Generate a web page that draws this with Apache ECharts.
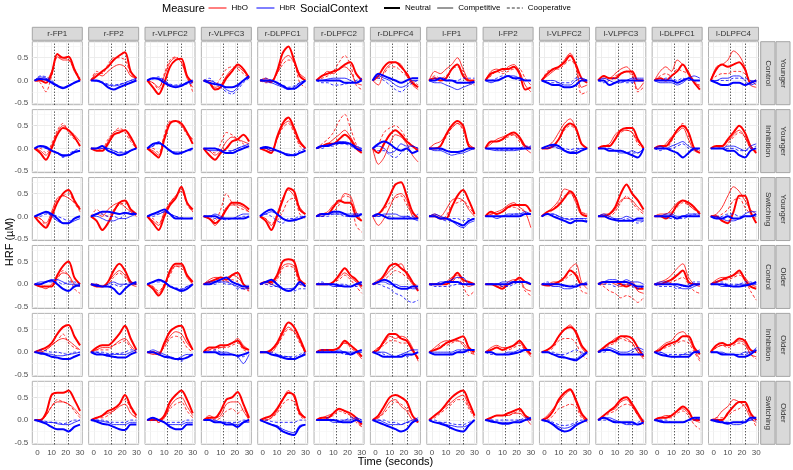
<!DOCTYPE html>
<html><head><meta charset="utf-8">
<script src="https://cdn.jsdelivr.net/npm/echarts@6/dist/echarts.min.js"></script>
<style>html,body{margin:0;padding:0;background:#fff}#c{width:793px;height:470px}</style>
</head><body><div id="c"></div><script>
// ---------- data ----------
const times = [-2, 2, 6, 10, 14, 18, 22, 26, 30];            // seconds
const channels = ['r-FP1','r-FP2','r-VLPFC2','r-VLPFC3','r-DLPFC1','r-DLPFC2','r-DLPFC4','l-FP1','l-FP2','l-VLPFC2','l-VLPFC3','l-DLPFC1','l-DLPFC4'];
const conditions = ['Control','Inhibition','Switching','Control','Inhibition','Switching'];
const groups = ['Younger','Younger','Younger','Older','Older','Older'];
const taskMarks = [12, 22];
const xTicks = [0, 10, 20, 30];
const yTicks = [-0.5, 0, 0.5];
// HRF values in hundredths of µM; [row][channel] -> value at each time
const HbO_Neutral = [
 [[0,0,-5,15,58,50,52,25,0],[0,10,20,30,45,55,62,20,5],[0,-15,-30,-5,30,45,48,10,-5],[0,-5,-20,-15,5,20,35,25,5],[0,0,-3,20,60,75,45,10,0],[0,10,15,20,25,35,40,15,0],[0,10,30,40,40,30,15,-5,-15],[0,5,0,5,25,35,10,0,0],[0,15,20,25,25,30,15,-20,-15],[0,15,25,30,40,55,35,5,-5],[0,10,5,5,15,20,20,0,0],[0,5,0,10,20,35,15,-5,-20],[0,25,35,30,35,40,25,-5,0]],
 [[0,-10,-25,0,30,45,40,25,5],[0,-5,-5,10,30,35,40,25,0],[0,-10,-20,20,55,60,55,35,10],[0,-15,-25,-10,0,15,20,30,15],[0,-5,-10,25,55,68,45,15,0],[0,5,10,10,20,30,20,0,-10],[0,-10,10,30,40,30,15,5,-5],[0,0,5,30,50,60,50,5,0],[0,15,15,20,30,35,25,5,0],[0,0,5,20,45,55,45,10,0],[0,5,5,20,40,45,45,20,0],[0,5,5,20,40,50,35,0,-10],[0,5,5,20,35,50,35,5,-10]],
 [[0,-15,-25,0,30,50,58,35,15],[0,-10,-30,-15,10,30,35,15,5],[0,-15,-30,0,25,40,65,30,15],[0,-5,-15,-5,15,30,30,25,15],[0,-10,-30,0,35,62,55,15,5],[0,5,5,20,35,30,30,0,-10],[0,5,20,45,70,75,45,10,-5],[0,0,-5,-5,20,45,58,35,5],[0,10,5,10,20,25,25,25,10],[0,10,15,25,40,55,40,5,0],[0,0,5,20,50,70,50,35,15],[0,0,-5,5,25,35,30,20,5],[0,0,-10,-15,10,45,45,10,-15]],
 [[0,-5,-5,-5,20,40,50,15,0],[0,-5,-5,5,30,45,30,5,0],[0,-10,-25,-5,30,45,45,20,5],[0,5,10,15,10,20,25,0,-10],[0,5,5,20,50,55,50,10,0],[0,0,0,5,20,35,20,10,-5],[0,5,20,40,45,35,25,5,-15],[0,0,0,0,10,25,10,5,0],[0,0,-5,-10,0,5,15,5,0],[0,-3,0,5,15,30,20,0,0],[0,5,5,5,0,-5,0,-10,-10],[0,0,5,10,20,30,5,0,0],[0,5,10,15,20,30,10,-5,-10]],
 [[0,5,10,20,40,55,60,35,15],[0,10,15,15,25,40,58,30,5],[0,0,-5,20,45,55,58,30,5],[0,10,10,15,15,20,25,10,5],[0,0,5,20,45,65,55,30,0],[0,5,5,5,10,25,15,5,-10],[0,5,25,40,40,30,25,5,-15],[0,5,10,20,25,30,35,10,0],[0,5,10,5,10,15,25,10,-5],[0,5,15,35,50,55,45,15,0],[0,10,20,25,35,35,30,10,-10],[0,5,15,20,25,35,35,10,-5],[0,15,20,15,20,30,25,5,0]],
 [[0,0,15,55,60,60,65,45,20],[0,5,10,20,25,35,55,30,10],[0,0,0,10,40,55,65,45,15],[0,5,5,20,45,50,62,35,5],[0,5,10,25,45,60,55,15,5],[0,5,5,15,25,20,15,5,-10],[0,10,30,50,55,50,40,10,-5],[0,10,20,35,50,60,65,40,10],[0,5,10,10,15,20,25,10,0],[0,5,20,45,60,68,45,15,0],[0,10,20,30,45,50,35,15,-5],[0,5,5,10,20,30,20,0,0],[0,0,0,15,30,40,40,15,0]]
];
const HbO_Competitive = [
 [[0,5,0,20,52,45,45,20,0],[0,15,10,20,30,35,30,10,5],[0,-5,-15,10,40,50,40,5,-15],[0,-5,-15,-10,10,25,30,20,10],[0,5,0,15,45,55,40,15,5],[0,10,20,15,25,30,20,-5,-10],[0,-10,20,35,40,35,10,-10,-20],[0,20,15,25,35,50,25,0,-5],[0,20,25,20,30,35,20,-10,-25],[0,10,20,30,45,60,35,-15,-10],[0,10,5,15,25,30,15,-20,-5],[0,20,30,20,45,35,20,-5,-10],[0,30,35,45,65,55,30,-10,-15]],
 [[0,-5,-15,5,35,50,40,30,15],[0,0,-5,15,35,40,40,20,5],[0,-5,-15,25,55,60,50,35,20],[0,-5,-15,-5,15,25,20,15,10],[0,0,-5,20,50,60,40,10,0],[0,5,10,20,30,40,25,5,-5],[0,-35,-20,10,30,25,10,-15,-30],[0,10,15,30,45,55,45,10,0],[0,10,20,25,30,30,20,0,-10],[0,5,15,35,55,65,45,10,0],[0,5,10,30,40,40,35,15,5],[0,0,10,25,35,45,20,-5,-10],[0,0,5,15,30,40,25,0,-5]],
 [[0,-5,-15,10,40,45,40,30,20],[0,5,0,15,25,30,20,10,0],[0,-10,-20,10,30,45,55,30,10],[0,-5,-20,-5,20,25,25,20,10],[0,-5,-20,5,40,58,45,20,5],[0,5,10,25,30,50,45,10,-10],[0,-20,-5,20,45,50,35,0,-5],[0,5,0,15,35,40,35,15,0],[0,5,10,15,25,30,20,10,-25],[0,10,20,35,60,55,30,5,5],[0,5,5,15,35,40,35,20,10],[0,5,5,15,30,35,25,15,10],[0,5,20,45,65,55,35,15,5]],
 [[0,-5,-10,0,15,25,20,0,-5],[0,0,-5,5,20,30,20,0,-5],[0,-5,-20,0,25,40,40,15,0],[0,10,15,15,15,20,15,0,-15],[0,5,0,15,40,45,40,5,-5],[0,0,0,5,15,25,15,5,-10],[0,10,15,30,40,45,20,0,-10],[0,0,0,5,15,20,5,-5,0],[0,0,0,-5,5,10,10,-10,-15],[0,0,5,5,15,35,45,5,-10],[0,0,5,0,-5,0,5,-15,-20],[0,5,10,20,35,45,15,0,-5],[0,10,15,15,20,25,15,0,-5]],
 [[0,0,5,15,25,30,25,15,5],[0,5,10,10,15,25,30,15,0],[0,-5,-5,15,35,45,40,20,5],[0,5,10,10,15,20,30,15,5],[0,0,0,15,40,55,45,25,-5],[0,5,5,5,10,20,15,0,-15],[0,10,20,35,30,35,30,10,-20],[0,10,20,25,25,25,20,5,-5],[0,10,15,10,10,15,20,5,-10],[0,5,15,35,50,60,40,10,-5],[0,10,20,30,35,30,20,0,-15],[0,10,20,25,40,45,30,5,-15],[0,10,15,15,20,25,20,-5,-10]],
 [[0,0,10,30,40,40,35,25,10],[0,5,10,15,20,30,35,15,5],[0,5,-5,5,30,45,50,30,10],[0,10,5,10,35,40,40,20,0],[0,0,5,20,45,65,50,20,5],[0,5,10,15,25,20,10,0,-15],[0,5,20,40,45,30,20,0,-5],[0,10,20,30,40,50,55,30,10],[0,5,10,10,10,15,15,5,-10],[0,10,25,40,55,65,40,10,-5],[0,10,20,25,40,45,30,10,-10],[0,5,10,10,20,25,15,0,-5],[0,5,20,30,45,40,30,5,-5]]
];
const HbO_Cooperative = [
 [[0,-5,-25,10,50,50,45,25,5],[0,20,15,35,50,50,45,15,0],[0,-5,-20,15,45,52,40,10,-25],[0,0,-10,5,25,30,25,15,5],[0,-5,-5,15,35,45,40,-5,-15],[0,5,10,20,40,55,35,-10,-20],[0,5,15,30,30,20,10,0,-10],[0,10,5,10,25,30,20,-5,-10],[0,10,20,15,20,25,25,5,-10],[0,20,25,25,35,45,30,-30,-25],[0,5,0,10,15,20,10,-25,-15],[0,10,15,10,25,20,15,0,-15],[0,10,15,15,20,20,15,0,-10]],
 [[0,0,-10,10,40,55,35,20,10],[0,0,0,20,35,45,35,15,0],[0,0,-10,30,60,60,50,30,20],[0,-5,-10,10,35,30,20,10,0],[0,0,-5,20,45,55,35,5,-5],[0,10,20,35,60,75,45,10,-5],[0,10,35,45,50,40,20,5,0],[0,0,5,25,45,55,40,5,0],[0,15,15,20,25,30,15,5,0],[0,0,5,20,40,50,40,10,0],[0,0,5,20,35,40,35,10,0],[0,0,0,15,40,55,35,0,-5],[0,0,0,10,25,35,25,0,-10]],
 [[0,-5,-20,5,35,45,50,30,10],[0,15,5,0,15,25,30,15,5],[0,-5,-15,5,30,45,60,25,10],[0,0,-10,15,50,30,20,15,10],[0,-5,-15,-10,10,35,40,5,-5],[0,0,5,10,25,45,40,-20,-35],[0,5,15,30,40,45,25,5,0],[0,0,-5,0,25,30,35,20,5],[0,5,5,10,20,20,15,10,0],[0,5,15,30,45,50,35,10,5],[0,0,0,10,30,45,30,15,5],[0,0,5,10,20,30,25,15,5],[0,0,5,15,35,40,20,5,-5]],
 [[0,0,-5,-5,10,30,20,-10,-20],[0,0,-5,0,15,25,15,5,0],[0,-5,-15,0,20,40,35,20,0],[0,0,10,10,5,10,5,-10,-15],[0,0,0,10,35,40,35,0,-5],[0,0,0,5,10,20,10,-5,-20],[0,5,10,20,30,25,15,5,-5],[0,0,0,0,5,15,-5,-25,-15],[0,0,0,-5,0,5,5,-15,-25],[0,0,0,5,10,20,25,-15,-20],[0,-5,-15,-20,-30,-25,-30,-40,-30],[0,0,0,5,10,15,0,-15,-20],[0,5,10,10,15,20,10,-15,-35]],
 [[0,0,5,15,25,40,20,10,5],[0,5,5,5,15,20,25,10,0],[0,0,0,10,30,35,30,10,0],[0,5,5,10,10,15,20,5,0],[0,0,5,15,35,50,45,20,0],[0,0,5,5,10,20,10,0,-10],[0,10,15,25,25,20,20,0,-10],[0,5,15,15,20,25,15,0,-5],[0,5,10,5,5,10,15,5,0],[0,0,10,25,30,30,20,-5,-15],[0,5,15,20,30,25,20,0,-5],[0,5,10,15,20,25,20,0,-20],[0,10,15,10,15,20,15,-5,-15]],
 [[0,0,10,30,45,40,35,20,5],[0,5,5,10,20,35,45,25,5],[0,0,-5,5,25,35,40,20,5],[0,5,0,5,20,25,15,25,-5],[0,0,5,15,35,45,40,10,0],[0,0,5,10,20,15,10,-5,-15],[0,5,15,30,40,35,25,10,0],[0,5,15,25,35,45,45,25,5],[0,5,10,10,10,15,20,10,5],[0,0,10,25,30,35,30,5,0],[0,5,15,20,30,35,30,10,0],[0,5,5,5,15,20,10,-10,-20],[0,5,5,10,20,25,35,10,-15]]
];
const HbR_Neutral = [
 [[0,3,2,-5,-12,-17,-12,-5,0],[0,0,-5,-15,-20,-15,-10,-5,0],[0,5,3,-5,-12,-15,-12,-5,0],[0,-5,-8,-10,-15,-15,-10,0,10],[0,0,0,-5,-12,-18,-18,-10,0],[0,0,0,0,0,-5,-5,-5,0],[0,15,10,5,0,-5,0,5,5],[0,0,5,0,0,-5,-5,-5,-3],[0,0,0,5,10,5,5,0,0],[0,-5,-10,-10,-15,-15,-10,0,0],[0,0,-10,-5,0,0,0,0,0],[0,0,0,0,-5,0,5,0,0],[0,-5,-10,-10,-5,-5,-10,-5,0]],
 [[0,5,3,-5,-10,-15,-15,-8,-5],[0,0,5,-5,-10,-15,-12,-5,0],[0,10,12,5,-5,-12,-10,-5,0],[0,0,0,-5,-10,-10,-5,0,5],[0,3,0,-5,-10,-15,-15,-10,-5],[0,5,5,10,12,12,10,0,-5],[0,10,15,10,0,-5,0,-10,-5],[0,0,0,-5,-8,-8,-5,0,0],[0,0,0,0,0,0,0,0,0],[0,5,8,5,-5,-10,-10,-5,0],[0,0,-5,-5,-5,-10,-15,-20,0],[0,0,0,-5,-10,-20,-10,0,0],[0,0,0,-5,-5,-15,-20,-5,0]],
 [[0,5,10,5,-5,-15,-15,-5,0],[0,5,10,10,8,5,8,5,5],[0,5,10,15,5,-5,-5,-5,-5],[0,0,0,-5,-5,-5,-5,-5,0],[0,10,15,5,-5,-10,-8,-5,0],[0,5,5,10,10,5,0,0,5],[0,5,0,-5,-5,-5,-5,-5,-5],[0,0,-5,-5,-10,-15,-20,-10,-5],[0,0,0,0,0,0,0,5,5],[0,5,0,-5,-10,-15,-10,-10,-12],[0,0,-5,-8,-10,-10,-10,-5,-5],[0,0,0,0,-5,0,0,0,0],[0,-5,-5,0,-5,-5,0,0,5]],
 [[0,0,5,8,0,-10,-15,-5,-3],[0,-3,-5,-5,-10,-22,-10,0,5],[0,5,10,5,-5,-10,-15,-10,0],[0,0,5,10,15,5,0,-5,-5],[0,5,10,0,-10,-15,-10,5,-5],[0,0,0,0,-3,-5,-5,0,5],[0,5,10,5,-5,-10,-10,-5,-5],[0,0,0,5,5,5,0,0,0],[0,0,0,0,0,5,5,5,0],[0,0,0,0,-3,-5,-5,0,0],[0,5,5,5,5,5,0,-5,-5],[0,0,0,0,0,-3,-5,0,0],[0,0,0,-3,-5,-5,-3,0,5]],
 [[0,-3,-5,-10,-12,-15,-15,-10,-5],[0,-5,-5,-8,-10,-12,-12,-5,0],[0,0,-5,-10,-12,-15,-15,-12,-5],[0,0,0,-5,-5,-5,-8,-5,0],[0,0,-5,-8,-12,-15,-15,-10,-5],[0,0,0,0,0,0,-5,0,5],[0,-5,-10,-10,-10,-10,-5,-5,0],[0,-5,-5,-5,-5,0,0,5,5],[0,0,-5,-5,-5,-3,0,5,5],[0,0,-5,-10,-12,-15,-18,-10,0],[0,5,5,0,-5,-5,-5,-5,-5],[0,-5,-8,-10,-10,-10,-10,0,0],[0,0,-5,-5,-5,-10,-10,-5,5]],
 [[0,-3,-8,-15,-20,-20,-25,-15,-10],[0,-3,-8,-10,-15,-20,-22,-10,-10],[0,5,0,-5,-15,-20,-20,-10,-10],[0,0,-5,-5,-10,-10,-15,-5,0],[0,-5,-10,-15,-25,-30,-33,-15,-10],[0,0,0,0,-3,-5,-5,0,-5],[0,-5,-10,-15,-20,-25,-20,-5,0],[0,-5,-8,-12,-18,-23,-25,-12,0],[0,-3,-5,-8,-8,-5,-5,0,5],[0,-3,-10,-20,-25,-22,-12,-5,0],[0,5,0,-5,-5,-5,-5,-10,-5],[0,-3,-5,-5,-5,-5,0,5,5],[0,-3,-5,-8,-5,-5,-5,5,5]]
];
const HbR_Competitive = [
 [[0,8,5,-3,-10,-15,-10,-5,0],[0,-2,-5,-10,-12,-10,-5,0,5],[0,5,5,0,-10,-12,-10,-5,-3],[0,0,-5,-10,-20,-25,-15,0,5],[0,-3,-5,-10,-15,-20,-15,-5,0],[0,0,3,5,5,5,0,-5,5],[0,10,5,0,-10,-15,-10,0,0],[0,-5,-5,-10,-15,-20,-15,-10,-5],[0,-5,0,5,10,10,5,0,0],[0,0,0,-5,-10,-10,0,5,0],[0,5,0,-5,-5,0,5,5,5],[0,-5,-5,-5,-10,-5,5,10,5],[0,0,5,5,10,10,0,-10,-5]],
 [[0,5,0,-5,-10,-18,-15,-10,-5],[0,0,0,0,-5,-10,-10,-5,0],[0,5,15,5,-5,-8,-8,-5,0],[0,-5,-5,-5,-10,-5,0,5,10],[0,0,-5,-5,-10,-12,-15,-10,-5],[0,5,8,10,15,15,10,5,0],[0,5,0,-10,-5,10,5,5,0],[0,-5,-5,-10,-15,-12,-10,-5,0],[0,-3,-5,-5,-5,-5,-3,0,5],[0,0,5,0,-5,-8,-5,0,0],[0,0,0,-5,-10,-10,-5,-10,0],[0,5,0,5,10,15,5,0,0],[0,0,0,5,5,0,-5,5,10]],
 [[0,5,8,0,-10,-15,-15,-10,-5],[0,0,-5,-10,-10,-5,-5,0,5],[0,5,5,10,5,0,-5,-5,-5],[0,0,5,0,-5,-5,0,5,5],[0,5,10,5,-5,-10,-10,-5,0],[0,0,5,5,5,5,5,5,5],[0,0,5,5,5,0,0,-5,-10],[0,5,0,-5,-10,-20,-25,-15,-10],[0,0,-5,0,5,5,5,10,5],[0,5,5,0,-5,-8,-5,-5,-5],[0,5,0,-5,-5,0,-5,-10,-10],[0,0,5,5,0,0,5,5,5],[0,0,-5,-10,-10,-5,5,10,10]],
 [[0,5,5,10,10,5,0,0,0],[0,0,-5,0,5,0,0,0,0],[0,5,8,5,-5,-10,-12,-5,0],[0,5,5,5,5,0,-5,-10,-10],[0,5,0,-5,-10,-10,-8,0,-5],[0,0,0,-5,-5,-5,-5,0,0],[0,5,5,0,0,-5,-5,-10,-10],[0,0,5,5,10,15,15,0,0],[0,0,0,5,5,5,5,5,0],[0,0,-5,-5,-10,-10,-5,0,5],[0,5,10,10,5,10,5,5,0],[0,5,5,0,-5,-10,-10,-5,0],[0,0,-5,-5,-5,0,0,0,0]],
 [[0,0,-3,-5,-8,-8,-5,-3,0],[0,0,-5,-5,-5,-5,-5,0,5],[0,5,0,-5,-10,-15,-10,-5,-5],[0,0,0,0,0,-5,-10,-25,-5],[0,0,-5,-5,-10,-10,-15,-10,0],[0,0,0,0,5,0,0,0,0],[0,0,0,-5,-10,-5,0,5,5],[0,0,0,0,0,5,5,5,5],[0,0,-5,-5,0,0,5,5,5],[0,0,-5,-5,-10,-15,-15,-5,0],[0,5,10,5,0,0,5,10,5],[0,0,-5,-10,-10,-5,-5,0,5],[0,0,0,-5,-5,-5,0,0,10]],
 [[0,-3,-5,-5,-8,-10,-10,-5,0],[0,0,-3,-5,-10,-10,-10,-5,-5],[0,5,0,-5,-10,-10,-10,-5,-5],[0,0,0,-5,-5,-8,-10,-5,-5],[0,-5,-10,-12,-20,-25,-28,-12,-10],[0,0,0,-5,-5,0,0,5,0],[0,0,-5,-10,-10,-10,-5,0,5],[0,-5,-5,-10,-12,-15,-15,-10,0],[0,0,-5,-5,-5,-5,0,0,0],[0,-3,-8,-15,-18,-15,-8,-5,0],[0,5,5,0,-5,-10,-10,-10,-5],[0,0,-5,-5,-5,-5,0,5,0],[0,0,-5,-5,-10,-10,-5,0,5]]
];
const HbR_Cooperative = [
 [[0,10,8,0,-10,-15,-12,-5,0],[0,0,-3,-8,-10,-8,-5,0,3],[0,3,8,0,-8,-10,-8,-8,-5],[0,5,-5,-15,-25,-30,-20,-5,5],[0,5,0,-5,-10,-15,-12,-5,0],[0,-5,-5,-10,-10,-8,-5,0,5],[0,5,0,-10,-20,-25,-15,-5,0],[0,5,5,3,0,0,5,5,5],[0,0,5,10,10,5,0,0,0],[0,-5,-5,-5,-5,-5,5,5,0],[0,-5,0,5,0,-5,-5,0,0],[0,0,5,5,0,5,0,0,0],[0,0,0,0,5,5,5,0,0]],
 [[0,3,0,-5,-10,-20,-12,-5,0],[0,0,5,0,-5,-8,-8,-5,0],[0,5,10,5,-5,-10,-10,-5,-5],[0,0,0,-3,-5,-5,0,5,5],[0,0,0,-5,-10,-15,-12,-5,0],[0,0,5,5,10,10,5,0,0],[0,-5,-5,-15,-20,-10,0,5,0],[0,0,-3,-5,-8,-8,-5,0,0],[0,0,-2,-3,-3,-2,0,5,5],[0,0,3,0,0,-3,0,0,0],[0,0,0,-5,-5,-8,-10,-10,0],[0,-5,0,0,5,10,0,-5,0],[0,0,0,0,0,-5,-5,0,5]],
 [[0,0,5,5,0,-5,-10,-5,0],[0,5,5,0,0,-5,5,10,5],[0,0,5,10,5,0,-3,-5,-3],[0,0,-5,-5,-8,-5,-5,0,0],[0,5,0,-10,-15,-5,-5,0,0],[0,0,0,5,5,0,0,5,5],[0,0,0,0,-5,-5,0,0,5],[0,0,-5,-10,-5,-5,-10,-5,-5],[0,0,0,0,0,5,5,5,5],[0,5,5,0,-5,-5,-5,-5,-10],[0,0,-5,-5,-10,-5,-10,-15,-10],[0,0,-3,-5,-5,-5,0,5,0],[0,-3,0,5,5,0,0,0,0]],
 [[0,0,5,5,5,0,5,5,0],[0,-5,-5,-5,0,-5,0,5,0],[0,5,5,5,-3,-8,-10,-5,0],[0,0,0,5,0,0,-10,-10,-5],[0,0,-5,-5,-10,-15,-15,-10,-10],[0,5,0,0,0,0,-5,-5,0],[0,0,-5,-10,-20,-25,-35,-40,-35],[0,-5,-5,-5,-3,0,0,0,0],[0,0,0,-5,-5,0,5,5,0],[0,5,0,0,-5,-5,0,0,0],[0,0,0,-5,0,0,-5,-10,-5],[0,-5,-5,-5,-10,-5,0,5,5],[0,5,5,0,0,0,5,5,0]],
 [[0,5,3,0,0,-3,-5,0,0],[0,0,0,-3,-3,-3,0,5,5],[0,0,-5,-10,-10,-15,-20,-10,-5],[0,0,5,0,-5,-5,-10,-10,0],[0,0,0,-5,-8,-10,-10,-5,0],[0,5,5,0,0,-5,-5,0,0],[0,0,-5,-10,-10,-5,-10,-5,0],[0,-5,-5,-5,-3,0,5,5,5],[0,-5,-5,-5,-5,0,0,5,5],[0,0,0,-5,-5,0,5,0,0],[0,0,5,0,-5,-5,0,5,0],[0,0,-5,-5,-5,-5,0,0,0],[0,0,-3,-5,-5,-5,-5,0,5]],
 [[0,0,-3,-5,-5,-8,-5,0,0],[0,0,0,-3,-5,-5,-5,0,0],[0,0,0,-5,-5,-5,-5,0,0],[0,0,-5,-3,-5,-5,-5,0,0],[0,0,-3,-5,-5,-5,-5,0,0],[0,0,5,0,0,0,5,5,0],[0,0,0,-5,-5,-10,-5,-5,0],[0,0,-5,-5,-8,-10,-10,-5,0],[0,0,0,0,0,0,0,5,5],[0,0,-5,-10,-12,-10,-5,0,0],[0,0,0,-3,-5,-8,-8,-5,0],[0,0,0,-5,-5,-5,0,0,5],[0,0,-3,-5,-5,-5,0,0,0]]
];

// ---------- layout / style ----------
const FONT = '"Liberation Sans", Arial, sans-serif';
const NR = 6, NC = 13;
const L0 = 32.3, DX = 56.35, PW = 50, T0 = 41.7, DY = 67.92, PH = 63;
const X_MIN = -3.6, X_MAX = 31.6, Y_MIN = -0.533, Y_MAX = 0.853;
const RED = '#FF0000', BLUE = '#0000FF';
const ctxStyle = {
  Neutral: {width: 2, type: 'solid'},
  Competitive: {width: 0.8, type: 'solid'},
  Cooperative: {width: 0.8, type: [3, 2]}
};
const seriesDefs = [
  ['HbO', 'Competitive', HbO_Competitive, RED],
  ['HbO', 'Cooperative', HbO_Cooperative, RED],
  ['HbO', 'Neutral', HbO_Neutral, RED],
  ['HbR', 'Competitive', HbR_Competitive, BLUE],
  ['HbR', 'Cooperative', HbR_Cooperative, BLUE],
  ['HbR', 'Neutral', HbR_Neutral, BLUE]
];
const gridMajX = [0, 10, 20, 30], gridMinX = [5, 15, 25];
const gridMajY = [-0.5, 0, 0.5], gridMinY = [-0.25, 0.25, 0.75];

const grids = [], xAxes = [], yAxes = [], series = [], graphics = [];
for (let r = 0; r < NR; r++) {
  for (let c = 0; c < NC; c++) {
    const k = r * NC + c;
    grids.push({left: L0 + c * DX, top: T0 + r * DY, width: PW, height: PH,
      show: true, backgroundColor: '#FFFFFF', borderColor: '#B3B3B3', borderWidth: 1});
    const bottom = r === NR - 1, first = c === 0;
    xAxes.push({gridIndex: k, type: 'value', min: X_MIN, max: X_MAX,
      axisLine: {show: false}, splitLine: {show: false},
      axisTick: {show: bottom, customValues: xTicks, length: 3, lineStyle: {color: '#333333', width: 0.8}},
      axisLabel: {show: bottom, customValues: xTicks, fontSize: 8, color: '#4D4D4D', margin: 4, fontFamily: FONT}});
    yAxes.push({gridIndex: k, type: 'value', min: Y_MIN, max: Y_MAX,
      axisLine: {show: false}, splitLine: {show: false},
      axisTick: {show: first, customValues: yTicks, length: 3, lineStyle: {color: '#333333', width: 0.8}},
      axisLabel: {show: first, customValues: yTicks, fontSize: 8, color: '#4D4D4D', margin: 4, fontFamily: FONT,
        formatter: v => v.toFixed(1)}});
    const ml = [];
    gridMajX.forEach(v => ml.push({xAxis: v, lineStyle: {color: '#EBEBEB', width: 0.9, type: 'solid'}}));
    gridMinX.forEach(v => ml.push({xAxis: v, lineStyle: {color: '#F4F4F4', width: 0.6, type: 'solid'}}));
    gridMajY.forEach(v => ml.push({yAxis: v, lineStyle: {color: '#EBEBEB', width: 0.9, type: 'solid'}}));
    gridMinY.forEach(v => ml.push({yAxis: v, lineStyle: {color: '#F4F4F4', width: 0.6, type: 'solid'}}));
    taskMarks.forEach(v => ml.push({xAxis: v, lineStyle: {color: '#000000', width: 0.9, type: [1, 2]}}));
    seriesDefs.forEach(([meas, ctx, arr, col], si) => {
      const vals = arr[r][c];
      const s = {
        name: meas + ' ' + ctx + ' ' + channels[c] + ' ' + groups[r] + ' ' + conditions[r],
        type: 'line', xAxisIndex: k, yAxisIndex: k, symbol: 'none', smooth: 0.3,
        silent: true, animation: false, z: 3,
        lineStyle: Object.assign({color: col}, ctxStyle[ctx]),
        data: times.map((t, i) => [t, vals[i] / 100])
      };
      if (si === 0) {
        s.markLine = {silent: true, symbol: ['none', 'none'], label: {show: false}, animation: false, z: 1, data: ml};
      }
      series.push(s);
    });
  }
}
// column strips
for (let c = 0; c < NC; c++) {
  const x = L0 + c * DX;
  graphics.push({type: 'rect', shape: {x: x, y: 27.3, width: PW, height: 13},
    style: {fill: '#D9D9D9', stroke: '#A6A6A6', lineWidth: 1}, silent: true});
  graphics.push({type: 'text', x: x + PW / 2, y: 27.3 + 6.8,
    style: {text: channels[c], fill: '#333333', fontSize: 8, fontFamily: FONT, align: 'center', verticalAlign: 'middle'}, silent: true});
}
// row strips
for (let r = 0; r < NR; r++) {
  const y = T0 + r * DY;
  graphics.push({type: 'rect', shape: {x: 760.7, y: y, width: 14.3, height: PH},
    style: {fill: '#D9D9D9', stroke: '#A6A6A6', lineWidth: 1}, silent: true});
  graphics.push({type: 'text', x: 768, y: y + PH / 2, rotation: -Math.PI / 2,
    style: {text: conditions[r], fill: '#333333', fontSize: 8, fontFamily: FONT, align: 'center', verticalAlign: 'middle'}, silent: true});
  graphics.push({type: 'rect', shape: {x: 776, y: y, width: 14, height: PH},
    style: {fill: '#D9D9D9', stroke: '#A6A6A6', lineWidth: 1}, silent: true});
  graphics.push({type: 'text', x: 783, y: y + PH / 2, rotation: -Math.PI / 2,
    style: {text: groups[r], fill: '#333333', fontSize: 8, fontFamily: FONT, align: 'center', verticalAlign: 'middle'}, silent: true});
}
// axis titles
graphics.push({type: 'text', x: 10, y: 242, rotation: Math.PI / 2,
  style: {text: 'HRF (µM)', fill: '#000', fontSize: 11, fontFamily: FONT, align: 'center', verticalAlign: 'middle'}, silent: true});
graphics.push({type: 'text', x: 395.5, y: 462,
  style: {text: 'Time (seconds)', fill: '#000', fontSize: 11, fontFamily: FONT, align: 'center', verticalAlign: 'middle'}, silent: true});

// legend helper series
const legendSeries = [
  {name: 'HbO', color: RED, ls: {width: 1, type: 'solid'}},
  {name: 'HbR', color: BLUE, ls: {width: 1, type: 'solid'}},
  {name: 'Neutral', color: '#000', ls: ctxStyle.Neutral},
  {name: 'Competitive', color: '#000', ls: ctxStyle.Competitive},
  {name: 'Cooperative', color: '#000', ls: ctxStyle.Cooperative}
];
legendSeries.forEach(l => series.push({name: l.name, type: 'line', xAxisIndex: 0, yAxisIndex: 0, data: [],
  symbol: 'none', color: l.color, itemStyle: {color: l.color}, lineStyle: Object.assign({color: l.color}, l.ls)}));
const legendItem = l => ({name: l.name, lineStyle: {color: l.color, width: l.ls.width, type: l.ls.type}});

const chart = echarts.init(document.getElementById('c'));
chart.setOption({
  animation: false,
  backgroundColor: '#FFFFFF',
  textStyle: {fontFamily: FONT},
  title: [
    {text: 'Measure', left: 162, top: 3, padding: 0, textStyle: {fontSize: 11, fontWeight: 'normal', color: '#000', fontFamily: FONT}},
    {text: 'SocialContext', left: 300, top: 3, padding: 0, textStyle: {fontSize: 11, fontWeight: 'normal', color: '#000', fontFamily: FONT}}
  ],
  legend: [
    {data: legendSeries.slice(0, 2).map(legendItem), left: 208, top: 4, padding: 0, itemWidth: 18, itemHeight: 10, itemGap: 8,
      itemStyle: {opacity: 0}, textStyle: {fontSize: 8, color: '#000', fontFamily: FONT}, selectedMode: false},
    {data: legendSeries.slice(2).map(legendItem), left: 383, top: 4, padding: 0, itemWidth: 16, itemHeight: 10, itemGap: 6,
      itemStyle: {opacity: 0}, textStyle: {fontSize: 8, color: '#000', fontFamily: FONT}, selectedMode: false}
  ],
  grid: grids, xAxis: xAxes, yAxis: yAxes, series: series, graphic: graphics
});
</script></body></html>
